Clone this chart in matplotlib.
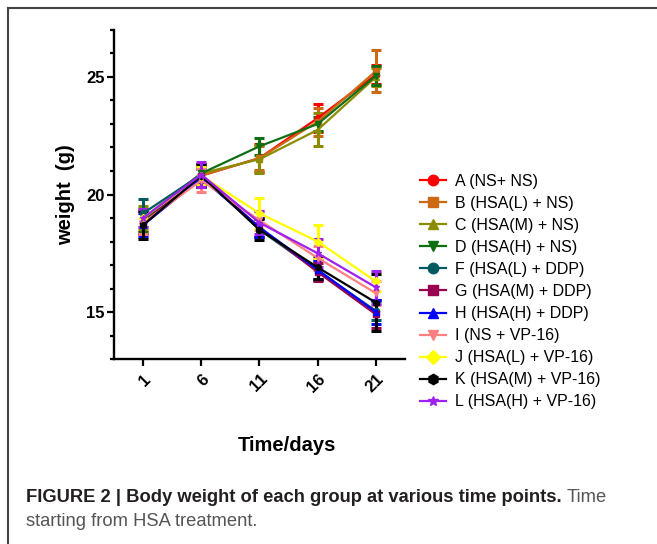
import numpy as np
import matplotlib.pyplot as plt
from matplotlib.lines import Line2D

plt.rcParams['font.family'] = ['Liberation Sans', 'DejaVu Sans']

# days after start of HSA treatment
days = [1, 6, 11, 16, 21]

labels = ['A (NS+ NS)', 'B (HSA(L) + NS)', 'C (HSA(M) + NS)', 'D (HSA(H) + NS)',
          'F (HSA(L) + DDP)', 'G (HSA(M) + DDP)', 'H (HSA(H) + DDP)',
          'I (NS + VP-16)', 'J (HSA(L) + VP-16)', 'K (HSA(M) + VP-16)',
          'L (HSA(H) + VP-16)']

# mean body weight (g) per group
A = [18.8, 20.8, 21.55, 23.25, 25.1]
B = [18.9, 20.8, 21.55, 23.1, 25.25]
C = [19.0, 20.9, 21.5, 22.75, 25.0]
D = [18.9, 20.9, 22.05, 23.0, 25.05]
F = [19.2, 20.85, 18.5, 16.75, 15.05]
G = [18.8, 20.8, 18.6, 16.7, 14.9]
H = [18.7, 20.7, 18.6, 16.8, 15.0]
I = [18.8, 20.6, 18.9, 17.3, 15.8]
J = [19.0, 20.8, 19.2, 18.0, 16.3]
K = [18.7, 20.8, 18.5, 16.9, 15.4]
L = [19.0, 20.85, 18.8, 17.5, 16.05]

# standard deviations
A_sd = [0.5, 0.4, 0.6, 0.6, 0.4]
B_sd = [0.5, 0.4, 0.5, 0.6, 0.9]
C_sd = [0.5, 0.4, 0.6, 0.7, 0.4]
D_sd = [0.5, 0.4, 0.35, 0.3, 0.4]
F_sd = [0.6, 0.4, 0.3, 0.4, 0.4]
G_sd = [0.5, 0.5, 0.4, 0.4, 0.6]
H_sd = [0.5, 0.4, 0.4, 0.4, 0.5]
I_sd = [0.5, 0.5, 0.4, 0.5, 0.5]
J_sd = [0.4, 0.4, 0.65, 0.7, 0.4]
K_sd = [0.6, 0.5, 0.45, 0.5, 1.2]
L_sd = [0.4, 0.55, 0.5, 0.6, 0.7]

means = [A, B, C, D, F, G, H, I, J, K, L]
sds = [A_sd, B_sd, C_sd, D_sd, F_sd, G_sd, H_sd, I_sd, J_sd, K_sd, L_sd]
colors = ['#ff0000', '#cc6a14', '#8c8c00', '#0f6e12', '#005a60', '#990050',
          '#0000ff', '#ff8080', '#ffff00', '#000000', '#a020f0']
markers = ['o', 's', '^', 'v', 'o', 's', '^', 'v', 'D', 'h', '*']

fig = plt.figure(figsize=(6.57, 5.44), dpi=100)
ax = fig.add_axes([0.1735, 0.340, 0.4429, 0.6049])

handles = []
for m, s, c, mk, lab in zip(means, sds, colors, markers, labels):
    ax.errorbar(days, m, yerr=s, color=c, marker=mk, markersize=4.5,
                linewidth=1.6, elinewidth=2.2, capsize=3.5, capthick=2.2)
    handles.append(Line2D([], [], color=c, marker=mk, markersize=7.5,
                          linewidth=1.6, label=lab))

ax.set_xlim(-1.5, 23.5)
ax.set_ylim(13, 27)
ax.set_xticks(days)
ax.set_xticklabels([str(d) for d in days], rotation=45, ha='right',
                   va='top', rotation_mode='anchor', fontweight='bold',
                   fontsize=12)
ax.set_yticks([15, 20, 25])
ax.set_yticks(np.arange(13, 28, 1), minor=True)
ax.set_yticklabels(['15', '20', '25'], fontweight='bold', fontsize=12)
ax.tick_params(axis='both', which='major', length=5, width=1.6, direction='out')
ax.tick_params(axis='y', which='minor', length=3, width=1.6)
ax.tick_params(axis='x', pad=4)
ax.tick_params(axis='y', pad=1.5)

for side in ['top', 'right']:
    ax.spines[side].set_visible(False)
for side in ['left', 'bottom']:
    ax.spines[side].set_linewidth(1.7)

ax.set_ylabel('weight  (g)', fontsize=14.5, fontweight='bold')
ax.yaxis.set_label_coords(-0.134, 0.5)
ax.set_xlabel('Time/days', fontsize=14.5, fontweight='bold')
ax.xaxis.set_label_coords(0.595, -0.234)

fig.legend(handles=handles, loc='upper left', bbox_to_anchor=(0.630, 0.692),
           frameon=False, fontsize=11.5, handlelength=1.6, handletextpad=0.6,
           labelspacing=0.44, borderaxespad=0)

# caption
renderer = fig.canvas.get_renderer()
t1 = fig.text(26 / 657, 1 - 497 / 544, 'FIGURE 2 | Body weight of each group at various time points.',
              fontsize=13.2, fontweight='bold', color='#231f20', va='center')
bb = t1.get_window_extent(renderer)
fig.text(bb.x1 / fig.bbox.width + 0.007, 1 - 497 / 544, 'Time', fontsize=13.2,
         color='#555555', va='center')
fig.text(26 / 657, 1 - 522 / 544, 'starting from HSA treatment.', fontsize=13.2,
         color='#555555', va='center')

# frame lines of the figure panel
fig.add_artist(Line2D([8 / 657, 1], [1 - 8 / 544, 1 - 8 / 544], color='#444444', linewidth=1.5))
fig.add_artist(Line2D([8 / 657, 8 / 657], [0, 1 - 8 / 544], color='#444444', linewidth=1.5))

fig.savefig('out.png', dpi=100)
